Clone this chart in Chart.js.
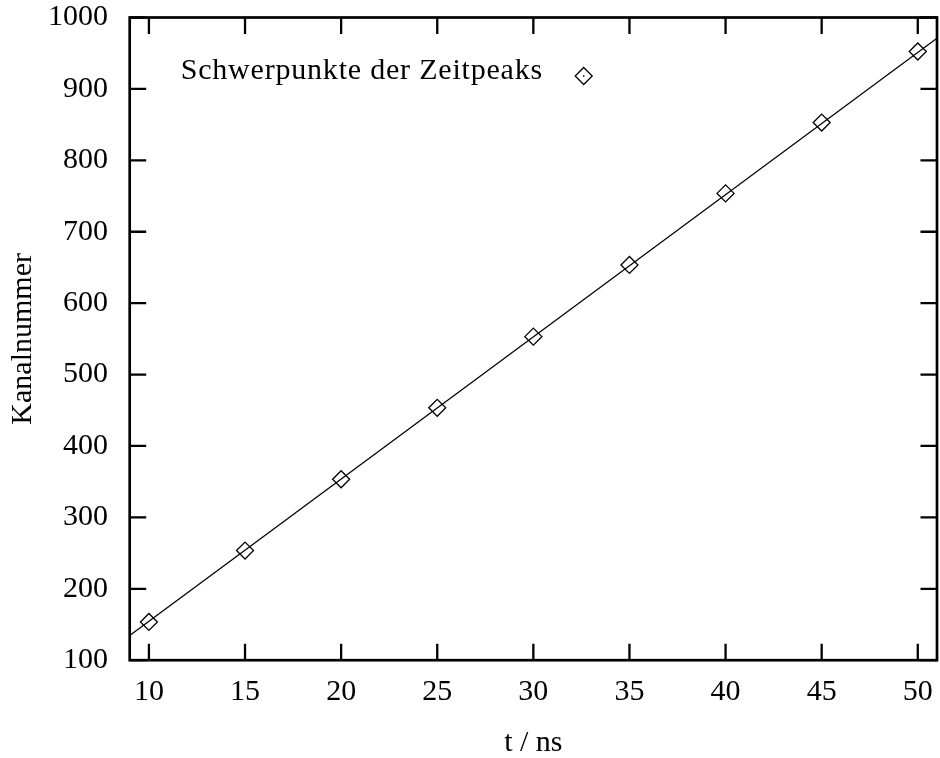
<!DOCTYPE html>
<html>
<head>
<meta charset="utf-8">
<script src="https://cdn.jsdelivr.net/npm/chart.js@4/dist/chart.umd.min.js"></script>
<style>
html,body{margin:0;padding:0;background:#fff;overflow:hidden}
#wrap{width:940px;height:758px;position:relative}
</style>
</head>
<body>
<div id="wrap"><canvas id="c" width="940" height="758"></canvas></div>
<script>
// ---- data ----
const tValues = [10, 15, 20, 25, 30, 35, 40, 45, 50];
const channelValues = [153.6, 253.5, 353.4, 453.4, 553.1, 653.5, 753.7, 852.9, 952.4];
const fitT = [9, 51];
const fitChannel = [134.5, 971.0];
const xTicks = [10, 15, 20, 25, 30, 35, 40, 45, 50];
const yTicks = [100, 200, 300, 400, 500, 600, 700, 800, 900, 1000];
const seriesLabel = 'Schwerpunkte der Zeitpeaks';
const xTitle = 't / ns';
const yTitle = 'Kanalnummer';

const FONT = "'Liberation Serif', 'Times New Roman', serif";

const pointData = tValues.map((t, i) => ({x: t, y: channelValues[i]}));
const fitData = fitT.map((t, i) => ({x: t, y: fitChannel[i]}));

function noEdgePadding(s) {
  s.paddingTop = 0; s.paddingBottom = 0; s.paddingLeft = 0; s.paddingRight = 0;
}

const framePlugin = {
  id: 'gnuplotFrame',
  afterDraw(chart) {
    const {ctx, chartArea: {left, right, top, bottom}} = chart;
    const xs = chart.scales.x, ys = chart.scales.y;
    ctx.save();
    ctx.strokeStyle = '#000';
    ctx.lineCap = 'butt';
    ctx.lineWidth = 2.3;
    ctx.beginPath();
    xs.ticks.forEach(t => {
      const px = xs.getPixelForValue(t.value);
      ctx.moveTo(px, bottom); ctx.lineTo(px, bottom - 16.5);
      ctx.moveTo(px, top); ctx.lineTo(px, top + 16.5);
    });
    ys.ticks.forEach(t => {
      const py = ys.getPixelForValue(t.value);
      ctx.moveTo(left, py); ctx.lineTo(left + 16.5, py);
      ctx.moveTo(right, py); ctx.lineTo(right - 16.5, py);
    });
    ctx.stroke();
    ctx.lineWidth = 2.7;
    ctx.strokeRect(left, top, right - left, bottom - top);

    // key (gnuplot style: text, then marker on the right)
    const ds = chart.data.datasets[0];
    ctx.fillStyle = '#000';
    ctx.font = '30px ' + FONT;
    if ('letterSpacing' in ctx) ctx.letterSpacing = '0.8px';
    ctx.textAlign = 'right';
    ctx.textBaseline = 'middle';
    ctx.fillText(ds.label, 543, 71);
    if ('letterSpacing' in ctx) ctx.letterSpacing = '0px';
    const cx = 583.7, cy = 76, r = 8.5;
    ctx.lineWidth = 1.3;
    ctx.beginPath();
    ctx.moveTo(cx, cy - r); ctx.lineTo(cx + r, cy); ctx.lineTo(cx, cy + r); ctx.lineTo(cx - r, cy); ctx.closePath();
    ctx.stroke();
    ctx.fillRect(cx - 0.75, cy - 0.75, 1.5, 1.5);
    ctx.restore();
  }
};

new Chart(document.getElementById('c'), {
  type: 'scatter',
  data: {
    datasets: [
      {
        label: seriesLabel,
        data: pointData,
        showLine: false,
        pointStyle: 'rectRot',
        pointRadius: 8.5,
        pointHoverRadius: 8.5,
        pointBorderWidth: 1.3,
        pointBorderColor: '#000',
        pointBackgroundColor: 'rgba(0,0,0,0)',
        order: 1
      },
      {
        label: 'Fit',
        data: fitData,
        showLine: true,
        borderColor: '#000',
        borderWidth: 1.3,
        pointRadius: 0,
        pointHoverRadius: 0,
        fill: false,
        order: 2
      }
    ]
  },
  options: {
    responsive: false,
    animation: false,
    devicePixelRatio: 1,
    layout: {autoPadding: false, padding: {top: 17.5, right: 3, left: 0, bottom: 0}},
    plugins: {
      legend: {display: false},
      tooltip: {enabled: false},
      title: {display: false}
    },
    scales: {
      x: {
        type: 'linear',
        min: 9, max: 51,
        afterBuildTicks: s => { s.ticks = xTicks.map(v => ({value: v})); },
        afterFit: s => { s.height = 97.8; noEdgePadding(s); },
        grid: {display: false, drawTicks: false},
        border: {display: false},
        ticks: {
          color: '#000',
          padding: 17.3,
          maxRotation: 0,
          autoSkip: false,
          callback: v => String(v),
          font: {family: FONT, size: 30, lineHeight: 1}
        },
        title: {
          display: true, text: xTitle, color: '#000',
          padding: {top: 0, bottom: 0},
          font: {family: FONT, size: 30, lineHeight: 1}
        }
      },
      y: {
        type: 'linear',
        min: 100, max: 1000,
        afterBuildTicks: s => { s.ticks = yTicks.map(v => ({value: v})); },
        afterFit: s => { s.width = 129.7; noEdgePadding(s); },
        grid: {display: false, drawTicks: false},
        border: {display: false},
        ticks: {
          color: '#000',
          padding: 21.7,
          autoSkip: false,
          callback: v => String(v),
          font: {family: FONT, size: 30, lineHeight: 1}
        },
        title: {
          display: true, text: yTitle, color: '#000',
          padding: {top: 7.8, bottom: 0},
          font: {family: FONT, size: 30, lineHeight: 1}
        }
      }
    }
  },
  plugins: [framePlugin]
});
</script>
</body>
</html>
